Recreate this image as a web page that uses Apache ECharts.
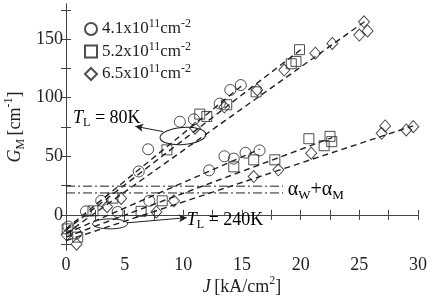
<!DOCTYPE html>
<html>
<head>
<meta charset="utf-8">
<script src="https://cdn.jsdelivr.net/npm/echarts@6/dist/echarts.min.js"></script>
<style>
  html, body { margin: 0; padding: 0; background: #fff; }
  #chart { width: 438px; height: 298px; }
</style>
</head>
<body>
<div id="chart"></div>
<script>
// measured points [J, G_M], both temperatures in each density series
const circles41 = [
  [0.2, -10], [1.7, 3], [3.0, 12], [6.2, 37], [7.0, 56], [9.7, 79.5], [10.9, 81.6],
  [13.1, 95], [14.0, 106.6], [14.9, 110.8],
  [0.85, -16], [4.4, 2.5], [7.1, 12], [12.2, 38], [13.5, 50], [14.3, 48], [15.3, 53], [16.5, 55]
];
const squares52 = [
  [0.1, -12], [2.3, 3.4], [4.0, 14.3], [8.6, 55.5], [11.4, 86], [12.0, 84], [13.7, 94],
  [16.2, 105], [19.2, 129], [19.6, 131], [19.9, 141],
  [1.0, -19], [6.4, 3], [8.2, 12], [14.3, 41], [16.0, 47], [17.8, 47], [20.7, 65],
  [22.0, 59], [22.5, 67], [22.65, 62.5]
];
const diamonds65 = [
  [0.05, -17], [3.5, 7], [4.7, 14], [11.0, 74], [13.5, 92], [16.3, 106.6], [18.6, 123.6],
  [21.25, 138], [22.7, 146.3], [25.0, 153.5], [25.7, 157], [25.4, 164.8],
  [0.9, -25], [7.7, 2.5], [9.2, 12], [16.0, 32.7], [18.1, 38.4], [20.9, 52.6],
  [26.9, 69.6], [27.2, 75.9], [29.0, 72.5], [29.6, 75.3]
];

// dashed fits
const fits = [
  [[0, -12], [15.2, 112]],
  [[0, -13], [20, 141]],
  [[0, -16], [25.6, 166]],
  [[0, -16], [16.5, 56]],
  [[0, -19], [22.7, 66]],
  [[0, -22], [29.6, 76]]
];
// alpha_W + alpha_M levels
const lossLines = [
  [[0, 24.5], [18.5, 24.5]],
  [[0, 18.7], [18.5, 18.7]]
];

const legendNames = ['4.1', '5.2', '6.5'];
const xTicks = [0, 5, 10, 15, 20, 25, 30];
const yLabels = [0, 50, 100, 150];
const yTicks = [-25, 0, 25, 50, 75, 100, 125, 150, 175];

const serif = '"Liberation Serif", "DejaVu Serif", serif';
const ink = '#222';

const chart = echarts.init(document.getElementById('chart'));

const markerStyle = { color: 'rgba(0,0,0,0)', borderColor: ink, borderWidth: 1 };

const series = [
  { name: legendNames[0], type: 'scatter', data: circles41, symbol: 'circle', symbolSize: 11, itemStyle: markerStyle, z: 3 },
  { name: legendNames[1], type: 'scatter', data: squares52, symbol: 'rect', symbolSize: 10, itemStyle: markerStyle, z: 3 },
  { name: legendNames[2], type: 'scatter', data: diamonds65, symbol: 'diamond', symbolSize: [11, 12], itemStyle: markerStyle, z: 3 }
];
fits.forEach(f => series.push({
  type: 'line', data: f, symbol: 'none', silent: true,
  lineStyle: { color: ink, width: 1.4, type: [6, 4] }, z: 2
}));
lossLines.forEach(f => series.push({
  type: 'line', data: f, symbol: 'none', silent: true,
  lineStyle: { color: ink, width: 1, type: [9, 3, 2, 3] }, z: 2
}));
// arrows from the ellipses to the temperature labels
series.push({
  type: 'line', data: [], silent: true,
  markLine: {
    silent: true, symbol: ['none', 'arrow'], symbolSize: [6, 8],
    label: { show: false },
    lineStyle: { color: ink, width: 1, type: 'solid' },
    data: [
      [{ coord: [8.3, 71] }, { coord: [5.9, 75.6] }],
      [{ coord: [5.2, -6.8] }, { coord: [10.3, -2.4] }]
    ]
  }
});

const supRich = {
  n: { fontFamily: serif, fontSize: 17, color: ink, lineHeight: 22 },
  sup: { fontFamily: serif, fontSize: 12, color: ink, lineHeight: 22, verticalAlign: 'top' }
};

chart.setOption({
  animation: false,
  grid: { left: 66, right: 20, top: 4, bottom: 48, containLabel: false, outerBoundsMode: 'none' },
  legend: {
    data: legendNames.map(n => ({ name: n })),
    orient: 'vertical', left: 79, top: 13, itemGap: 3,
    itemWidth: 12, itemHeight: 12,
    formatter: n => '{n|' + n + 'x10}{sup|11}{n|cm}{sup|-2}',
    textStyle: { rich: supRich }
  },
  xAxis: [{
    type: 'value', min: 0, max: 30, interval: 2.5,
    name: '{i|J} {n|[kA/cm}{sup|2}{n|]}', nameLocation: 'middle', nameGap: 25, nameMoveOverlap: false,
    nameTextStyle: { rich: {
      i: { fontFamily: serif, fontSize: 18, fontStyle: 'italic', color: ink, lineHeight: 24 },
      n: { fontFamily: serif, fontSize: 18, color: ink, lineHeight: 24 },
      sup: { fontFamily: serif, fontSize: 12, color: ink, lineHeight: 24, verticalAlign: 'top' }
    } },
    axisLine: { lineStyle: { color: '#444' } },
    axisTick: { inside: true, length: 5, lineStyle: { color: '#444' } },
    axisLabel: {
      fontFamily: serif, fontSize: 18, color: ink, margin: 6,
      formatter: v => (xTicks.indexOf(v) >= 0 ? String(v) : '')
    },
    splitLine: { show: false }
  }, {
    type: 'value', min: 0, max: 30, interval: 2.5, position: 'top',
    axisLine: { lineStyle: { color: '#444' } },
    axisTick: { inside: true, length: 5, lineStyle: { color: '#444' } },
    axisLabel: { show: false }, splitLine: { show: false }
  }],
  yAxis: [{
    type: 'value', min: -30, max: 180,
    name: '{i|G}{sub|M} {n|[cm}{sup|-1}{n|]}', nameLocation: 'middle', nameGap: 39, nameRotate: 90,
    nameMoveOverlap: false,
    nameTextStyle: { rich: {
      i: { fontFamily: serif, fontSize: 18, fontStyle: 'italic', color: ink, lineHeight: 24 },
      n: { fontFamily: serif, fontSize: 18, color: ink, lineHeight: 24 },
      sub: { fontFamily: serif, fontSize: 12, color: ink, lineHeight: 24, verticalAlign: 'bottom' },
      sup: { fontFamily: serif, fontSize: 12, color: ink, lineHeight: 24, verticalAlign: 'top' }
    } },
    axisLine: { lineStyle: { color: '#444' } },
    axisTick: { inside: true, length: 5, customValues: yTicks, lineStyle: { color: '#444' } },
    axisLabel: { fontFamily: serif, fontSize: 18, color: ink, margin: 3, customValues: yLabels },
    splitLine: { show: false }
  }, {
    type: 'value', min: -30, max: 180, position: 'right',
    axisLine: { show: true, lineStyle: { color: '#444' } },
    axisTick: { show: true, inside: true, length: 5, customValues: yTicks, lineStyle: { color: '#444' } },
    axisLabel: { show: false }, splitLine: { show: false }
  }],
  series: series
});

// annotations placed in data coordinates
const px = (x, y) => chart.convertToPixel({ xAxisIndex: 0, yAxisIndex: 0 }, [x, y]);
const e80 = px(9.97, 67.3);
const e240 = px(3.75, -7.7);
const t80 = px(0.6, 82.5);
const t240 = px(10.3, -4.5);
const aw = px(18.9, 21.5);
const tRich = {
  i: { fontFamily: serif, fontSize: 18, fontStyle: 'italic', color: ink, lineHeight: 22 },
  n: { fontFamily: serif, fontSize: 18, color: ink, lineHeight: 22 },
  sub: { fontFamily: serif, fontSize: 12, color: ink, lineHeight: 22, verticalAlign: 'bottom' }
};
chart.setOption({
  graphic: [
    { type: 'ellipse', shape: { cx: e80[0], cy: e80[1], rx: 23, ry: 8.5 }, rotation: 0.08,
      originX: e80[0], originY: e80[1],
      style: { fill: 'none', stroke: ink, lineWidth: 1 }, z: 10 },
    { type: 'ellipse', shape: { cx: e240[0], cy: e240[1], rx: 17.5, ry: 5 },
      style: { fill: 'none', stroke: ink, lineWidth: 1 }, z: 10 },
    { type: 'text', x: t80[0], y: t80[1], z: 10,
      style: { text: '{i|T}{sub|L}{n| = 80K}', rich: tRich, verticalAlign: 'middle' } },
    { type: 'text', x: t240[0], y: t240[1], z: 10,
      style: { text: '{i|T}{sub|L}{n| = 240K}', rich: tRich, verticalAlign: 'middle' } },
    { type: 'text', x: aw[0], y: aw[1], z: 10,
      style: { text: '{n|α}{sub|W}{n|+α}{sub|M}', rich: {
        n: { fontFamily: serif, fontSize: 20, color: ink, lineHeight: 24 },
        sub: { fontFamily: serif, fontSize: 13, color: ink, lineHeight: 24, verticalAlign: 'bottom' }
      }, verticalAlign: 'middle' } }
  ]
});
</script>
</body>
</html>
